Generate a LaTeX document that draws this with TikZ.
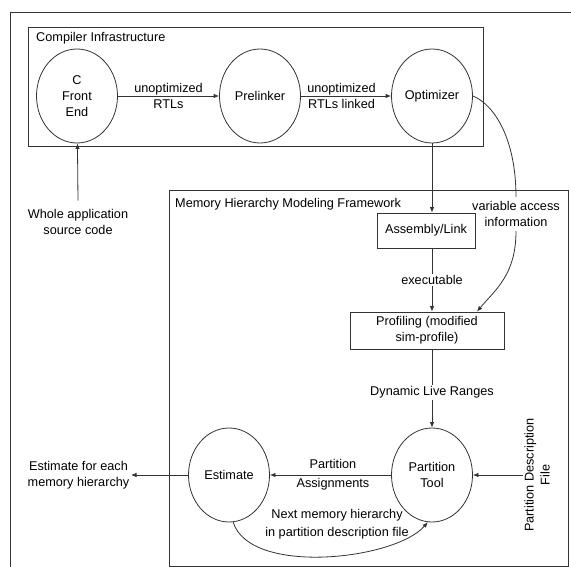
\documentclass[tikz,border=0pt]{standalone}
\usepackage{fontspec}
\setmainfont{Liberation Sans}
\usetikzlibrary{arrows.meta,shapes.geometric}
\begin{document}
\begin{tikzpicture}[x=1pt,y=-1pt,
  every node/.style={font=\fontsize{12.7pt}{16pt}\selectfont, text=black},
  line/.style={draw=black!80, line width=0.8pt},
  arr/.style={line, -{Latex[length=5.5pt,width=4.5pt]}},
  ell/.style={ellipse, line, minimum width=81pt, minimum height=94pt, inner sep=0pt, align=center},
  frame/.style={rectangle, line, inner sep=0pt, anchor=north west},
  sq/.style={rectangle, line, inner sep=1pt, align=center},
  lbl/.style={align=center, inner sep=1.5pt},
  wlbl/.style={lbl, fill=white}]
\useasboundingbox (0,0) rectangle (571,567);
\clip (0,0) rectangle (571,567);
% outer frame (runs off the right and bottom edges)
\node[frame, minimum width=600pt, minimum height=600pt] (outer) at (10,12) {};
% compiler infrastructure
\node[frame, minimum width=455pt, minimum height=119pt] (comp) at (28,27) {};
\node[anchor=base west, inner sep=0pt] (compt) at (36,41.5) {Compiler Infrastructure};
% memory hierarchy modeling framework
\node[frame, minimum width=398.5pt, minimum height=376pt] (mem) at (169,190) {};
\node[anchor=base west, inner sep=0pt] (memt) at (175,207.5) {Memory Hierarchy Modeling Framework};
% compiler nodes
\node[ell] (cfe) at (77,96) {C\\Front\\End};
\node[ell] (pre) at (260,96) {Prelinker};
\node[ell] (opt) at (432,96) {Optimizer};
\draw[arr] (cfe) -- node[lbl]{unoptimized\\RTLs} (pre);
\draw[arr] (pre) -- node[lbl, pos=0.45]{unoptimized\\RTLs linked} (opt);
% source code input
\node[lbl] (src) at (78,222) {Whole application\\source code};
\draw[arr] (src.north) ++(0,-7) -- (cfe);
% framework nodes
\node[sq, minimum width=98pt, minimum height=35pt] (asm) at (426,230.5) {Assembly/Link};
\node[sq, minimum width=154pt, minimum height=37pt] (prof) at (427,330.5) {Profiling (modified\\sim-profile)};
\node[ell] (pt) at (432,475) {Partition\\Tool};
\node[ell] (est) at (229,475) {Estimate};
\draw[arr] (opt.south) -- (opt.south |- asm.north);
\draw[arr] (opt.south |- asm.south) -- node[wlbl]{executable} (opt.south |- prof.north);
\draw[arr] (opt.south |- prof.south) -- node[wlbl, pos=0.55]{Dynamic Live Ranges} (pt);
% variable access information curve
\node[lbl, outer sep=3pt] (var) at (516,214) {variable access\\information};
\path (prof.north) ++(50,0) coordinate (vin);
\draw[line] (opt.east) .. controls (495,105) and (516,140) .. (var.north);
\draw[arr] (var.south) .. controls (516,275) and (495,290) .. (vin);
% partition tool and estimate
\draw[arr] (pt) -- node[lbl, pos=0.48]{Partition\\[3pt]Assignments} (est);
\node[lbl, rotate=90] (pdf) at (537,475) {Partition Description\\File};
\draw[arr] (pdf.north) -- (pt);
\coordinate (outc) at (131,475);
\draw[arr] (est) -- (outc);
\node[lbl, anchor=east] (outl) at (outc) {Estimate for each\\memory hierarchy};
\draw[arr] (est.-85) .. controls (250,576) and (395,560) .. (pt.-95);
\node[lbl] (nxt) at (337,524) {Next memory hierarchy\\[2pt]in partition description file};
\end{tikzpicture}
\end{document}
